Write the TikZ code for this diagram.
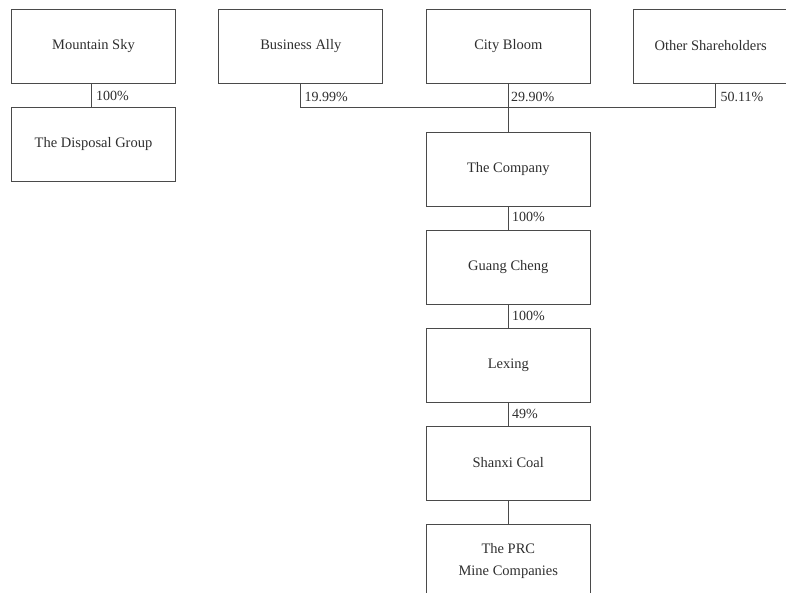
\documentclass[tikz,border=0pt]{standalone}
\usepackage{fontspec}
\setmainfont{Liberation Serif}
\definecolor{linegray}{HTML}{4A4A4A}
\definecolor{textgray}{HTML}{2E2E2E}
\begin{document}
\begin{tikzpicture}[x=1pt,y=-1pt,
  entity/.style={draw=linegray, line width=0.9pt, minimum width=164pt,
    minimum height=74pt, inner sep=0pt, align=center, text=textgray,
    font=\fontsize{14.5}{22}\selectfont},
  share/.style={anchor=base west, inner sep=0pt, text=textgray,
    font=\fontsize{14}{16}\selectfont},
  link/.style={draw=linegray, line width=0.9pt}]
\clip (0,0) rectangle (786,592);

% shareholders (top row)
\node[entity] (ms) at (93.5,46) {Mountain Sky};
\node[entity] (ba) at (300.8,46) {Business Ally};
\node[entity] (cb) at (508.3,46) {City Bloom};
\node[entity, minimum width=154pt] (os) at (710.7,46) {Other Shareholders};

% subsidiaries
\node[entity] (dg) at (93.5,144) {The Disposal Group};
\node[entity] (co) at (508.3,169) {The Company};
\node[entity] (gc) at (508.3,267) {Guang Cheng};
\node[entity] (lx) at (508.3,365) {Lexing};
\node[entity] (sc) at (508.3,463) {Shanxi Coal};
\node[entity] (prc) at (508.3,561) {The PRC\\Mine Companies};

% ownership lines
\coordinate (bar) at (0,107);
\draw[link] ([xshift=-2.5pt]ms.south) -- ([xshift=-2.5pt]dg.north);
\draw[link] (ba.south) -- (ba.south |- bar) -- ([xshift=5pt]os.south |- bar) -- ([xshift=5pt]os.south);
\draw[link] (cb) -- (co);
\draw[link] (co) -- (gc);
\draw[link] (gc) -- (lx);
\draw[link] (lx) -- (sc);
\draw[link] (sc) -- (prc);

% percentages
\node[share] (p1) at (96,100.3) {100\%};
\node[share] (p2) at (304.5,101.5) {19.99\%};
\node[share] (p3) at (511,101.5) {29.90\%};
\node[share] (p4) at (720.5,101.5) {50.11\%};
\node[share] (p5) at (512,221.5) {100\%};
\node[share] (p6) at (512,320.5) {100\%};
\node[share] (p7) at (512,418.5) {49\%};
\end{tikzpicture}
\end{document}
